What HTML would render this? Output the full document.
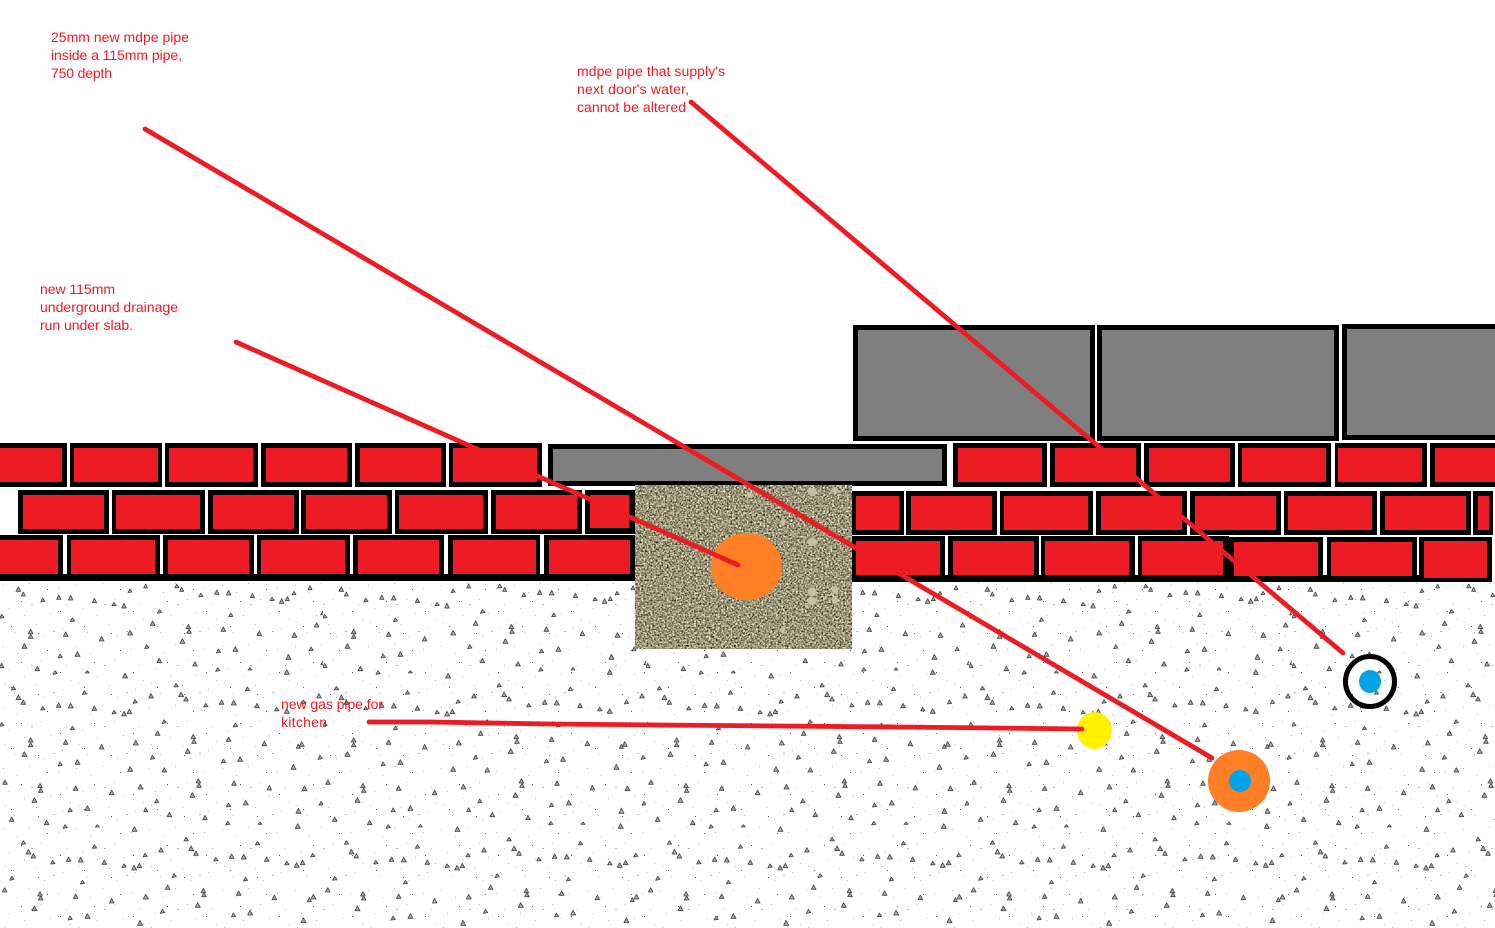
<!DOCTYPE html>
<html lang="en">
<head>
<meta charset="utf-8">
<title>Pipe diagram</title>
<style>
html,body{margin:0;padding:0;background:#fff;width:1495px;height:928px;overflow:hidden}
svg{display:block}
text{font-family:"Liberation Sans",sans-serif;font-size:14px;fill:#ed1c24}
</style>
</head>
<body>
<svg width="1495" height="928" viewBox="0 0 1495 928" xmlns="http://www.w3.org/2000/svg">
<defs>
<pattern id="tri" patternUnits="userSpaceOnUse" x="0" y="580" width="323" height="348">
<g transform="scale(.33333)" fill="#a8a8a8" stroke="#444" stroke-width="2.4" stroke-linejoin="round">
<path d="M55 21l7 13h-14zM70 36l6 12h-12zM128 54l7 10-13 2zM176 45l7 13h-13zM212 46l7 14h-14zM283 55l7 13h-13zM342 67l7 9-13 1zM372 70l7 14h-14zM390 27l6 9-12 2zM437 12l6 12h-12zM530 12l7 11-13 1zM545 22l6 12h-12zM602 39l7 10-13 2zM650 30l7 13h-13zM686 31l7 14h-14zM757 40l7 13h-13zM816 52l7 9-13 1zM845 56l7 14h-14zM862 50l6 12h-12zM882 34l6 9-12 2zM930 17l6 12h-12z"/>
<path d="M5 103l7 10-13 2zM478 89l8 8-14 3zM692 99l7 10-13 1zM968 94l7 9-13 2zM217 114l7 9-13 2zM458 123l7 13h-14zM950 128l7 13h-14zM92 148l7 13h-14zM92 163l7 12h-14zM565 133l7 13h-14zM567 148l7 12h-14zM197 156l7 13h-14zM390 151l8 14h-15zM670 141l7 13h-14zM778 153l7 14h-14zM883 158l8 14h-15zM305 169l7 14h-14zM547 176l8 14h-15zM73 191l8 14h-15z"/>
<path d="M440 194l7 10-13 2zM655 207l7 10-13 2zM706 200l8 14h-15zM933 201l7 10-13 2zM232 215l8 14h-15zM180 222l7 10-13 2zM865 223l8 15h-15zM478 235l7 13h-14zM970 241l7 13h-14zM5 250l7 13h-14zM585 245l7 13h-14zM112 259l7 13h-14zM165 272l7 9-13 2zM262 272l6 7h-12zM653 263l7 9-13 2zM750 263l6 7h-12zM860 269l8 14h-15zM375 280l8 14h-15z"/>
<path d="M40 319l7 10-13 1zM528 310l7 10-13 1zM742 321l7 10-13 1zM253 332l7 10-13 1zM543 336l8 14h-15zM558 350l7 13h-14zM55 345l8 14h-15zM70 360l7 13h-14zM453 341l7 13h-14zM405 359l7 9-13 2zM128 379l7 10-13 1zM176 369l7 13h-14zM212 370l8 14h-15zM283 378l7 13h-14zM342 391l7 9-13 2zM372 394l8 14h-15zM388 388l7 13h-14zM617 370l7 10-13 1zM665 360l7 13h-14zM701 361l8 14h-15zM771 370l7 13h-14zM830 382l7 10-13 1zM860 386l8 14h-15zM910 360l7 10-13 2zM957 341l7 13h-14z"/>
<path d="M5 427l7 10-13 2zM492 419l7 9-13 3zM217 439l7 9-13 2zM706 429l7 10-13 2zM473 453l7 13h-14zM580 463l7 13h-14zM582 478l7 12h-14zM92 473l7 13h-14zM92 488l7 12h-14zM197 480l7 13h-14zM686 471l7 13h-14zM407 481l8 14h-15zM793 483l7 14h-14zM305 493l7 14h-14zM563 506l8 14h-15zM73 515l8 14h-15zM905 485l8 14h-15zM895 493l6 12h-12zM457 526l7 10-13 2zM720 530l8 14h-15zM670 537l7 10-13 2zM232 539l8 14h-15zM180 546l7 10-13 2zM390 560l8 14h-15zM880 553l8 15h-15zM960 526l7 10-13 2zM493 563l7 13h-14z"/>
<path d="M15 600l7 13h-14zM120 610l7 13h-14zM122 625l7 12h-14zM595 596l7 13h-14zM597 610l7 12h-14zM227 618l7 13h-14zM421 613l8 14h-15zM702 603l7 13h-14zM808 616l7 14h-14zM913 618l8 14h-15zM335 630l7 14h-14zM577 638l8 14h-15zM103 653l8 14h-15zM470 657l7 10-13 2zM737 661l8 14h-15zM685 669l7 10-13 2zM262 677l8 14h-15zM210 684l7 10-13 2zM895 685l8 15h-15zM963 664l7 10-13 2zM437 683l6 12h-12zM35 711l7 13h-14zM508 697l7 13h-14zM615 706l7 13h-14zM140 721l7 13h-14zM195 734l7 9-13 2zM292 734l6 7h-12zM683 724l7 9-13 2zM780 726l6 7h-12zM403 740l8 14h-15zM893 731l8 14h-15z"/>
<path d="M70 782l7 10-13 1zM558 772l7 10-13 1zM772 784l7 10-13 1zM283 794l7 10-13 1zM573 798l8 14h-15zM588 813l7 13h-14zM85 808l8 14h-15zM100 821l7 13h-14zM483 803l7 13h-14zM435 820l7 9-13 2zM158 841l7 10-13 1zM206 831l7 13h-14zM242 832l8 14h-15zM313 840l7 13h-14zM372 852l7 9-13 2zM402 856l8 14h-15zM418 850l7 13h-14zM647 832l7 10-13 1zM695 822l7 13h-14zM731 823l8 14h-15zM800 831l7 13h-14zM860 844l7 10-13 1zM890 848l8 14h-15zM908 841l7 13h-14zM987 803l7 13h-14zM938 820l7 9-13 2z"/>
<path d="M35 889l7 9-13 3zM522 881l7 9-13 3zM247 901l7 9-13 2zM736 892l7 9-13 2zM503 915l7 13h-14zM610 925l7 13h-14zM612 938l7 12h-14zM120 935l7 13h-14zM122 948l7 12h-14zM227 942l7 13h-14zM716 933l7 13h-14zM437 943l8 14h-15zM823 945l7 14h-14zM335 955l7 14h-14zM593 968l8 14h-15zM103 978l8 14h-15zM940 943l8 14h-15zM928 953l6 12h-12zM14 923l7 13h-14zM487 988l7 10-13 2zM750 991l8 14h-15zM700 999l7 10-13 2zM262 1001l8 14h-15zM210 1008l7 10-13 2zM420 1021l8 15h-15zM910 1013l8 15h-15zM990 988l7 10-13 2z"/>
</g>
</pattern>
<pattern id="dots" patternUnits="userSpaceOnUse" x="0" y="580" width="73" height="61">
<g fill="#b4b4b4">
<rect x="3" y="5" width="1" height="1"/><rect x="17" y="12" width="1" height="1"/><rect x="29" y="3" width="1" height="1"/><rect x="41" y="19" width="1" height="1"/><rect x="58" y="8" width="1" height="1"/><rect x="66" y="24" width="1" height="1"/><rect x="9" y="28" width="1" height="1"/><rect x="24" y="35" width="1" height="1"/><rect x="36" y="44" width="1" height="1"/><rect x="50" y="33" width="1" height="1"/><rect x="62" y="48" width="1" height="1"/><rect x="14" y="52" width="1" height="1"/><rect x="44" y="56" width="1" height="1"/><rect x="70" y="39" width="1" height="1"/><rect x="5" y="42" width="1" height="1"/><rect x="31" y="24" width="2" height="1"/><rect x="53" y="51" width="2" height="1"/>
</g>
<g fill="#555">
<rect x="21" y="21" width="1" height="1"/><rect x="47" y="9" width="1" height="1"/><rect x="60" y="31" width="1" height="1"/><rect x="11" y="46" width="1" height="1"/><rect x="38" y="53" width="1" height="1"/>
</g>
</pattern>
<filter id="gravel" x="0" y="0" width="100%" height="100%" color-interpolation-filters="sRGB">
<feTurbulence type="fractalNoise" baseFrequency=".55" numOctaves="2" seed="7"/>
<feColorMatrix type="matrix" values="1.3 .7 0 0 -.4  1.3 .7 0 0 -.42  1.15 .65 0 0 -.43  0 0 0 0 1"/>
</filter>
</defs>

<rect width="1495" height="928" fill="#fff"/>

<!-- ground -->
<rect x="0" y="582" width="1495" height="346" fill="url(#dots)"/>
<rect x="0" y="582" width="1495" height="346" fill="url(#tri)"/>

<!-- upper slabs -->
<path fill="#000" d="M853 325H1095V441H853zM1097 325H1339V441H1097zM1342 324H1495V440H1342zM548 444H947V486H548z"/>
<path fill="#7f7f7f" d="M858 330H1090V436H858zM1102 330H1334V436H1102zM1347 329H1495V435H1347zM553 449H942V481H553z"/>

<!-- brick outlines -->
<path fill="#000" d="M0 443H67V487H0zM70 443H162V487H70zM165 443H258V487H165zM261 443H352V487H261zM355 443H446V487H355zM449 443H542V487H449zM18 490H109V534H18zM112 490H205V534H112zM208 490H299V534H208zM301 490H392V534H301zM395 490H488V534H395zM491 490H582V534H491zM585 490H635V534H585zM0 535H63V581H0zM67 535H160V581H67zM163 535H254V581H163zM257 535H350V581H257zM353 535H444V581H353zM448 535H540V581H448zM544 535H635V581H544zM0 574H635V581H0z"/>
<path fill="#000" d="M953 443H1047V487H953zM1050 443H1141V487H1050zM1144 443H1235V487H1144zM1238 443H1331V487H1238zM1335 443H1427V487H1335zM1430 443H1495V487H1430zM852 491H904V535H852zM906 491H997V535H906zM1000 491H1093V535H1000zM1096 491H1187V535H1096zM1190 491H1281V535H1190zM1284 491H1377V535H1284zM1380 491H1471V535H1380zM1473 491H1493V535H1473zM852 536H945V582H852zM948 536H1039V582H948zM1041 536H1135V582H1041zM1138 536H1229V582H1138zM1229 537H1323V582H1229zM1327 537H1417V582H1327zM1419 537H1492V582H1419zM852 575H1492V582H852z"/>
<!-- brick faces -->
<path fill="#ed1c24" d="M0 448H62V482H0zM74 448H158V482H74zM169 448H253V482H169zM266 448H347V482H266zM360 448H441V482H360zM453 448H537V482H453zM23 495H104V529H23zM116 495H200V529H116zM213 495H294V529H213zM306 495H387V529H306zM399 495H483V529H399zM496 495H577V529H496zM590 495H629V528H590zM0 540H58V574H0zM71 540H155V574H71zM168 540H249V574H168zM261 540H345V574H261zM358 540H439V574H358zM453 540H536V574H453zM549 540H630V574H549z"/>
<path fill="#ed1c24" d="M958 448H1042V482H958zM1055 448H1136V482H1055zM1149 448H1230V482H1149zM1242 448H1326V482H1242zM1338 448H1422V482H1338zM1435 448H1495V482H1435zM856 496H899V530H856zM911 496H992V530H911zM1004 496H1088V530H1004zM1101 496H1182V530H1101zM1195 496H1276V530H1195zM1288 496H1372V530H1288zM1385 496H1466V530H1385zM1478 496H1489V530H1478zM856 541H940V575H856zM953 541H1034V575H953zM1045 541H1129V575H1045zM1142 541H1223V575H1142zM1234 542H1318V576H1234zM1331 542H1412V576H1331zM1424 541H1487V578H1424z"/>

<!-- gravel -->
<rect x="635" y="485" width="217" height="164" filter="url(#gravel)"/>
<g fill="#c4c0a8">
<ellipse cx="812" cy="492" rx="4.5" ry="4"/><ellipse cx="812" cy="542" rx="4.5" ry="4"/><ellipse cx="812" cy="592" rx="4.5" ry="4"/><ellipse cx="812" cy="601" rx="4.5" ry="4"/><ellipse cx="835" cy="590" rx="3" ry="4"/><ellipse cx="835" cy="600" rx="3" ry="4"/><ellipse cx="783" cy="522" rx="2" ry="4"/><ellipse cx="783" cy="630" rx="2" ry="4"/><ellipse cx="750" cy="495" rx="3" ry="3"/><ellipse cx="835" cy="490" rx="3" ry="3"/>
</g>

<!-- pipes -->
<ellipse cx="746.5" cy="566.5" rx="35.5" ry="33.5" fill="#ff7f27"/>
<ellipse cx="1094.5" cy="730.5" rx="17.5" ry="18.5" fill="#fff200"/>
<circle cx="1239" cy="781" r="31" fill="#ff7f27"/>
<circle cx="1240" cy="781" r="11" fill="#00a2e8"/>
<ellipse cx="1370" cy="681.5" rx="24.5" ry="25" fill="none" stroke="#000" stroke-width="5"/>
<ellipse cx="1370" cy="681.5" rx="11" ry="11.5" fill="#00a2e8"/>

<!-- leader lines -->
<g fill="none" stroke="#ed1c24" stroke-width="4.8" stroke-linecap="round" stroke-linejoin="round">
<path d="M145 129L1212 758"/>
<path d="M236 342L738 565"/>
<path d="M691 102L1343 653"/>
<path d="M369 722L430 722L550 724L660 725L900 727L1082 729"/>
</g>

<!-- labels -->
<text x="51" y="42" textLength="138">25mm new mdpe pipe</text>
<text x="51" y="60" textLength="131">inside a 115mm pipe,</text>
<text x="51" y="78" textLength="61">750 depth</text>
<text x="577" y="76" textLength="148">mdpe pipe that supply's</text>
<text x="577" y="94" textLength="112">next door's water,</text>
<text x="577" y="112" textLength="109">cannot be altered</text>
<text x="40" y="294" textLength="75">new 115mm</text>
<text x="40" y="312" textLength="138">underground drainage</text>
<text x="40" y="330" textLength="93">run under slab.</text>
<text x="281" y="709" textLength="102">new gas pipe for</text>
<text x="281" y="727" textLength="46">kitchen</text>
</svg>
</body>
</html>
